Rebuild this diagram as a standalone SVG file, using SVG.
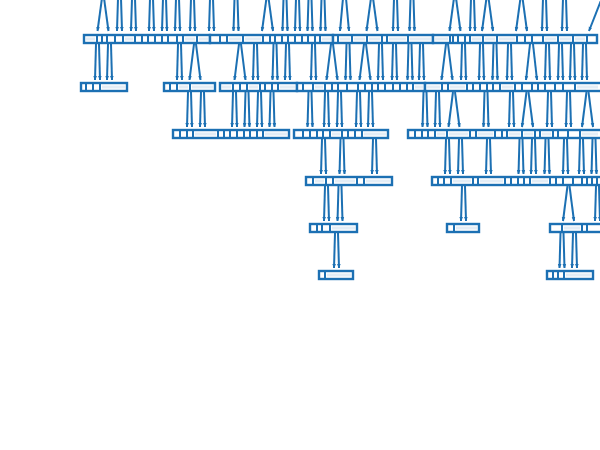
<svg xmlns="http://www.w3.org/2000/svg" width="600" height="450" viewBox="0 0 600 450">
<style>
.n{fill:#fff;stroke:#1c70b3;stroke-width:2.4}
.d{fill:none;stroke:#1c70b3;stroke-width:2}
.t{fill:#e3edf6}
.e{stroke:#1c70b3;stroke-width:2;marker-end:url(#ah)}
</style>
<defs>
<marker id="ah" viewBox="0 0 10 10" refX="9" refY="5" markerWidth="4.5" markerHeight="4.5" markerUnits="userSpaceOnUse" orient="auto"><path d="M0 1L10 5L0 9z" fill="#1c70b3"/></marker>
</defs>
<rect width="600" height="450" fill="#fff"/>
<g id="connectors">
<line class="e" x1="102" y1="-2" x2="97.5" y2="31"/><line class="e" x1="104" y1="-2" x2="108.5" y2="31"/>
<line class="e" x1="118" y1="-2" x2="117" y2="31"/><line class="e" x1="121" y1="-2" x2="122" y2="31"/>
<line class="e" x1="132" y1="-2" x2="131" y2="31"/><line class="e" x1="135" y1="-2" x2="136" y2="31"/>
<line class="e" x1="150" y1="-2" x2="149" y2="31"/><line class="e" x1="153" y1="-2" x2="154" y2="31"/>
<line class="e" x1="163" y1="-2" x2="162" y2="31"/><line class="e" x1="166" y1="-2" x2="167" y2="31"/>
<line class="e" x1="176" y1="-2" x2="175" y2="31"/><line class="e" x1="179" y1="-2" x2="180" y2="31"/>
<line class="e" x1="191" y1="-2" x2="190" y2="31"/><line class="e" x1="194" y1="-2" x2="195" y2="31"/>
<line class="e" x1="210" y1="-2" x2="209" y2="31"/><line class="e" x1="213" y1="-2" x2="214" y2="31"/>
<line class="e" x1="234.5" y1="-2" x2="233.5" y2="31"/><line class="e" x1="237.5" y1="-2" x2="238.5" y2="31"/>
<line class="e" x1="266.5" y1="-2" x2="262" y2="31"/><line class="e" x1="268.5" y1="-2" x2="273" y2="31"/>
<line class="e" x1="283.5" y1="-2" x2="282.5" y2="31"/><line class="e" x1="286.5" y1="-2" x2="287.5" y2="31"/>
<line class="e" x1="296" y1="-2" x2="295" y2="31"/><line class="e" x1="299" y1="-2" x2="300" y2="31"/>
<line class="e" x1="308.5" y1="-2" x2="307.5" y2="31"/><line class="e" x1="311.5" y1="-2" x2="312.5" y2="31"/>
<line class="e" x1="321.5" y1="-2" x2="320.5" y2="31"/><line class="e" x1="324.5" y1="-2" x2="325.5" y2="31"/>
<line class="e" x1="343" y1="-2" x2="340" y2="31"/><line class="e" x1="346" y1="-2" x2="349" y2="31"/>
<line class="e" x1="371" y1="-2" x2="366.5" y2="31"/><line class="e" x1="373" y1="-2" x2="377.5" y2="31"/>
<line class="e" x1="394" y1="-2" x2="393" y2="31"/><line class="e" x1="397" y1="-2" x2="398" y2="31"/>
<line class="e" x1="410.5" y1="-2" x2="409.5" y2="31"/><line class="e" x1="413.5" y1="-2" x2="414.5" y2="31"/>
<line class="e" x1="454" y1="-2" x2="449.5" y2="31"/><line class="e" x1="456" y1="-2" x2="460.5" y2="31"/>
<line class="e" x1="471" y1="-2" x2="470" y2="31"/><line class="e" x1="474" y1="-2" x2="475" y2="31"/>
<line class="e" x1="486.5" y1="-2" x2="482" y2="31"/><line class="e" x1="488.5" y1="-2" x2="493" y2="31"/>
<line class="e" x1="520.5" y1="-2" x2="516" y2="31"/><line class="e" x1="522.5" y1="-2" x2="527" y2="31"/>
<line class="e" x1="543" y1="-2" x2="542" y2="31"/><line class="e" x1="546" y1="-2" x2="547" y2="31"/>
<line class="e" x1="563" y1="-2" x2="562" y2="31"/><line class="e" x1="566" y1="-2" x2="567" y2="31"/>
<line class="e" x1="602" y1="-2" x2="589" y2="31"/>

<line class="e" x1="96" y1="44" x2="95" y2="80"/><line class="e" x1="99" y1="44" x2="100" y2="80"/>
<line class="e" x1="108" y1="44" x2="107" y2="80"/><line class="e" x1="111" y1="44" x2="112" y2="80"/>
<line class="e" x1="178" y1="44" x2="177" y2="80"/><line class="e" x1="181" y1="44" x2="182" y2="80"/>
<line class="e" x1="194" y1="44" x2="189.5" y2="80"/><line class="e" x1="196" y1="44" x2="200.5" y2="80"/>
<line class="e" x1="239" y1="44" x2="234.5" y2="80"/><line class="e" x1="241" y1="44" x2="245.5" y2="80"/>
<line class="e" x1="254" y1="44" x2="253" y2="80"/><line class="e" x1="257" y1="44" x2="258" y2="80"/>
<line class="e" x1="273.5" y1="44" x2="272.5" y2="80"/><line class="e" x1="276.5" y1="44" x2="277.5" y2="80"/>
<line class="e" x1="286" y1="44" x2="285" y2="80"/><line class="e" x1="289" y1="44" x2="290" y2="80"/>
<line class="e" x1="312" y1="44" x2="311" y2="80"/><line class="e" x1="315" y1="44" x2="316" y2="80"/>
<line class="e" x1="331" y1="44" x2="326.5" y2="80"/><line class="e" x1="333" y1="44" x2="337.5" y2="80"/>
<line class="e" x1="346.5" y1="44" x2="345.5" y2="80"/><line class="e" x1="349.5" y1="44" x2="350.5" y2="80"/>
<line class="e" x1="364" y1="44" x2="359.5" y2="80"/><line class="e" x1="366" y1="44" x2="370.5" y2="80"/>
<line class="e" x1="379" y1="44" x2="378" y2="80"/><line class="e" x1="382" y1="44" x2="383" y2="80"/>
<line class="e" x1="393" y1="44" x2="392" y2="80"/><line class="e" x1="396" y1="44" x2="397" y2="80"/>
<line class="e" x1="408.5" y1="44" x2="407.5" y2="80"/><line class="e" x1="411.5" y1="44" x2="412.5" y2="80"/>
<line class="e" x1="420" y1="44" x2="419" y2="80"/><line class="e" x1="423" y1="44" x2="424" y2="80"/>
<line class="e" x1="446" y1="44" x2="441.5" y2="80"/><line class="e" x1="448" y1="44" x2="452.5" y2="80"/>
<line class="e" x1="462" y1="44" x2="461" y2="80"/><line class="e" x1="465" y1="44" x2="466" y2="80"/>
<line class="e" x1="480" y1="44" x2="479" y2="80"/><line class="e" x1="483" y1="44" x2="484" y2="80"/>
<line class="e" x1="493.5" y1="44" x2="492.5" y2="80"/><line class="e" x1="496.5" y1="44" x2="497.5" y2="80"/>
<line class="e" x1="508" y1="44" x2="507" y2="80"/><line class="e" x1="511" y1="44" x2="512" y2="80"/>
<line class="e" x1="530" y1="44" x2="526" y2="80"/><line class="e" x1="533" y1="44" x2="537" y2="80"/>
<line class="e" x1="546" y1="44" x2="545" y2="80"/><line class="e" x1="549" y1="44" x2="550" y2="80"/>
<line class="e" x1="559" y1="44" x2="558" y2="80"/><line class="e" x1="562" y1="44" x2="563" y2="80"/>
<line class="e" x1="571" y1="44" x2="570" y2="80"/><line class="e" x1="574" y1="44" x2="575" y2="80"/>
<line class="e" x1="583" y1="44" x2="582" y2="80"/><line class="e" x1="586" y1="44" x2="587" y2="80"/>

<line class="e" x1="188" y1="92" x2="187" y2="127"/><line class="e" x1="191" y1="92" x2="192" y2="127"/>
<line class="e" x1="201" y1="92" x2="200" y2="127"/><line class="e" x1="204" y1="92" x2="205" y2="127"/>
<line class="e" x1="233" y1="92" x2="232" y2="127"/><line class="e" x1="236" y1="92" x2="237" y2="127"/>
<line class="e" x1="245.5" y1="92" x2="244.5" y2="127"/><line class="e" x1="248.5" y1="92" x2="249.5" y2="127"/>
<line class="e" x1="258" y1="92" x2="257" y2="127"/><line class="e" x1="261" y1="92" x2="262" y2="127"/>
<line class="e" x1="270.5" y1="92" x2="269.5" y2="127"/><line class="e" x1="273.5" y1="92" x2="274.5" y2="127"/>
<line class="e" x1="308.5" y1="92" x2="307.5" y2="127"/><line class="e" x1="311.5" y1="92" x2="312.5" y2="127"/>
<line class="e" x1="325" y1="92" x2="324" y2="127"/><line class="e" x1="328" y1="92" x2="329" y2="127"/>
<line class="e" x1="338" y1="92" x2="337" y2="127"/><line class="e" x1="341" y1="92" x2="342" y2="127"/>
<line class="e" x1="357" y1="92" x2="356" y2="127"/><line class="e" x1="360" y1="92" x2="361" y2="127"/>
<line class="e" x1="369" y1="92" x2="368" y2="127"/><line class="e" x1="372" y1="92" x2="373" y2="127"/>
<line class="e" x1="423.5" y1="92" x2="422.5" y2="127"/><line class="e" x1="426.5" y1="92" x2="427.5" y2="127"/>
<line class="e" x1="436" y1="92" x2="435" y2="127"/><line class="e" x1="439" y1="92" x2="440" y2="127"/>
<line class="e" x1="453" y1="92" x2="448.5" y2="127"/><line class="e" x1="455" y1="92" x2="459.5" y2="127"/>
<line class="e" x1="484.5" y1="92" x2="483.5" y2="127"/><line class="e" x1="487.5" y1="92" x2="488.5" y2="127"/>
<line class="e" x1="510" y1="92" x2="509" y2="127"/><line class="e" x1="513" y1="92" x2="514" y2="127"/>
<line class="e" x1="526.5" y1="92" x2="522" y2="127"/><line class="e" x1="528.5" y1="92" x2="533" y2="127"/>
<line class="e" x1="548" y1="92" x2="547" y2="127"/><line class="e" x1="551" y1="92" x2="552" y2="127"/>
<line class="e" x1="567" y1="92" x2="566" y2="127"/><line class="e" x1="570" y1="92" x2="571" y2="127"/>
<line class="e" x1="586.5" y1="92" x2="582" y2="127"/><line class="e" x1="588.5" y1="92" x2="593" y2="127"/>

<line class="e" x1="322" y1="139" x2="321" y2="174"/><line class="e" x1="325" y1="139" x2="326" y2="174"/>
<line class="e" x1="340.5" y1="139" x2="339.5" y2="174"/><line class="e" x1="343.5" y1="139" x2="344.5" y2="174"/>
<line class="e" x1="373" y1="139" x2="372" y2="174"/><line class="e" x1="376" y1="139" x2="377" y2="174"/>
<line class="e" x1="446" y1="139" x2="445" y2="174"/><line class="e" x1="449" y1="139" x2="450" y2="174"/>
<line class="e" x1="459" y1="139" x2="458" y2="174"/><line class="e" x1="462" y1="139" x2="463" y2="174"/>
<line class="e" x1="487" y1="139" x2="486" y2="174"/><line class="e" x1="490" y1="139" x2="491" y2="174"/>
<line class="e" x1="519.5" y1="139" x2="518.5" y2="174"/><line class="e" x1="522.5" y1="139" x2="523.5" y2="174"/>
<line class="e" x1="532" y1="139" x2="531" y2="174"/><line class="e" x1="535" y1="139" x2="536" y2="174"/>
<line class="e" x1="545.5" y1="139" x2="544.5" y2="174"/><line class="e" x1="548.5" y1="139" x2="549.5" y2="174"/>
<line class="e" x1="564" y1="139" x2="563" y2="174"/><line class="e" x1="567" y1="139" x2="568" y2="174"/>
<line class="e" x1="580" y1="139" x2="579" y2="174"/><line class="e" x1="583" y1="139" x2="584" y2="174"/>
<line class="e" x1="592.5" y1="139" x2="591.5" y2="174"/><line class="e" x1="595.5" y1="139" x2="596.5" y2="174"/>

<line class="e" x1="325" y1="186" x2="324" y2="221"/><line class="e" x1="328" y1="186" x2="329" y2="221"/>
<line class="e" x1="338.5" y1="186" x2="337.5" y2="221"/><line class="e" x1="341.5" y1="186" x2="342.5" y2="221"/>
<line class="e" x1="462" y1="186" x2="461" y2="221"/><line class="e" x1="465" y1="186" x2="466" y2="221"/>
<line class="e" x1="567.5" y1="186" x2="563" y2="221"/><line class="e" x1="569.5" y1="186" x2="574" y2="221"/>
<line class="e" x1="596" y1="186" x2="595" y2="221"/><line class="e" x1="599" y1="186" x2="600" y2="221"/>

<line class="e" x1="335" y1="233" x2="334" y2="268"/><line class="e" x1="338" y1="233" x2="339" y2="268"/>
<line class="e" x1="560.5" y1="233" x2="559.5" y2="268"/><line class="e" x1="563.5" y1="233" x2="564.5" y2="268"/>
<line class="e" x1="573" y1="233" x2="572" y2="268"/><line class="e" x1="576" y1="233" x2="577" y2="268"/>
</g>

<g id="n1a"><rect class="n" x="84" y="35" width="126" height="8"/><rect class="t" x="86" y="37.5" width="9" height="3"/><rect class="t" x="125" y="37.5" width="8" height="3"/><rect class="t" x="185" y="37.5" width="10" height="3"/><rect class="t" x="199" y="37.5" width="9" height="3"/><path class="d" d="M97 35v8M102 35v8M107 35v8M115 35v8M123 35v8M135 35v8M142 35v8M148 35v8M155 35v8M162 35v8M168 35v8M177 35v8M183 35v8M197 35v8"/></g>
<g id="n1b"><rect class="n" x="210" y="35" width="123" height="8"/><rect class="t" x="229" y="37.5" width="12" height="3"/><rect class="t" x="245" y="37.5" width="16" height="3"/><rect class="t" x="322" y="37.5" width="9" height="3"/><path class="d" d="M220 35v8M227 35v8M243 35v8M263 35v8M270 35v8M275 35v8M282 35v8M288 35v8M295 35v8M302 35v8M308 35v8M315 35v8M320 35v8"/></g>
<g id="n1c"><rect class="n" x="333" y="35" width="100" height="8"/><rect class="t" x="340" y="37.5" width="10" height="3"/><rect class="t" x="354" y="37.5" width="11" height="3"/><rect class="t" x="369" y="37.5" width="11" height="3"/><rect class="t" x="389" y="37.5" width="17" height="3"/><rect class="t" x="410" y="37.5" width="21" height="3"/><path class="d" d="M338 35v8M352 35v8M367 35v8M382 35v8M387 35v8M408 35v8"/></g>
<g id="n1d"><rect class="n" x="433" y="35" width="164" height="8"/><rect class="t" x="435" y="37.5" width="13" height="3"/><rect class="t" x="472" y="37.5" width="9" height="3"/><rect class="t" x="485" y="37.5" width="10" height="3"/><rect class="t" x="499" y="37.5" width="16" height="3"/><rect class="t" x="545" y="37.5" width="11" height="3"/><rect class="t" x="560" y="37.5" width="11" height="3"/><rect class="t" x="575" y="37.5" width="10" height="3"/><path class="d" d="M450 35v8M453 35v8M458 35v8M465 35v8M470 35v8M483 35v8M497 35v8M517 35v8M525 35v8M532 35v8M543 35v8M558 35v8M573 35v8M587 35v8"/></g>

<g id="n2a"><rect class="n" x="81" y="83" width="46" height="8"/><rect class="t" x="102" y="85.5" width="23" height="3"/><path class="d" d="M86 83v8M93 83v8M100 83v8"/></g>
<g id="n2b"><rect class="n" x="164" y="83" width="51" height="8"/><rect class="t" x="179" y="85.5" width="9" height="3"/><rect class="t" x="192" y="85.5" width="21" height="3"/><path class="d" d="M170 83v8M177 83v8M190 83v8"/></g>
<g id="n2c"><rect class="n" x="220" y="83" width="77" height="8"/><rect class="t" x="222" y="85.5" width="9" height="3"/><rect class="t" x="249" y="85.5" width="9" height="3"/><rect class="t" x="280" y="85.5" width="15" height="3"/><path class="d" d="M233 83v8M240 83v8M247 83v8M260 83v8M265 83v8M272 83v8M278 83v8"/></g>
<g id="n2d"><rect class="n" x="297" y="83" width="128" height="8"/><rect class="t" x="315" y="85.5" width="8" height="3"/><rect class="t" x="415" y="85.5" width="8" height="3"/><path class="d" d="M303 83v8M313 83v8M325 83v8M332 83v8M338 83v8M347 83v8M358 83v8M365 83v8M372 83v8M378 83v8M385 83v8M393 83v8M400 83v8M407 83v8M413 83v8"/></g>
<g id="n2e"><rect class="n" x="425" y="83" width="177" height="8"/><rect class="t" x="427" y="85.5" width="13" height="3"/><rect class="t" x="450" y="85.5" width="15" height="3"/><rect class="t" x="502" y="85.5" width="11" height="3"/><rect class="t" x="577" y="85.5" width="21" height="3"/><path class="d" d="M442 83v8M448 83v8M467 83v8M473 83v8M480 83v8M487 83v8M493 83v8M500 83v8M515 83v8M522 83v8M532 83v8M538 83v8M545 83v8M555 83v8M563 83v8M575 83v8"/></g>

<g id="n3a"><rect class="n" x="173" y="130" width="116" height="8"/><rect class="t" x="195" y="132.5" width="21" height="3"/><rect class="t" x="265" y="132.5" width="22" height="3"/><path class="d" d="M180 130v8M187 130v8M193 130v8M218 130v8M224 130v8M230 130v8M237 130v8M244 130v8M250 130v8M257 130v8M263 130v8"/></g>
<g id="n3b"><rect class="n" x="294" y="130" width="94" height="8"/><rect class="t" x="332" y="132.5" width="8" height="3"/><rect class="t" x="364" y="132.5" width="22" height="3"/><path class="d" d="M303 130v8M310 130v8M317 130v8M323 130v8M330 130v8M342 130v8M348 130v8M355 130v8M362 130v8"/></g>
<g id="n3c"><rect class="n" x="408" y="130" width="194" height="8"/><rect class="t" x="437" y="132.5" width="8" height="3"/><rect class="t" x="449" y="132.5" width="19" height="3"/><rect class="t" x="478" y="132.5" width="15" height="3"/><rect class="t" x="509" y="132.5" width="11" height="3"/><rect class="t" x="524" y="132.5" width="9" height="3"/><rect class="t" x="542" y="132.5" width="9" height="3"/><rect class="t" x="582" y="132.5" width="16" height="3"/><path class="d" d="M415 130v8M422 130v8M428 130v8M435 130v8M447 130v8M470 130v8M476 130v8M495 130v8M502 130v8M507 130v8M522 130v8M535 130v8M540 130v8M553 130v8M558 130v8M568 130v8M580 130v8"/></g>

<g id="n4a"><rect class="n" x="306" y="177" width="86" height="8"/><rect class="t" x="315" y="179.5" width="9" height="3"/><rect class="t" x="335" y="179.5" width="20" height="3"/><rect class="t" x="366" y="179.5" width="24" height="3"/><path class="d" d="M313 177v8M326 177v8M333 177v8M357 177v8M364 177v8"/></g>
<g id="n4b"><rect class="n" x="432" y="177" width="170" height="8"/><rect class="t" x="453" y="179.5" width="18" height="3"/><rect class="t" x="480" y="179.5" width="23" height="3"/><rect class="t" x="532" y="179.5" width="16" height="3"/><path class="d" d="M438 177v8M444 177v8M451 177v8M473 177v8M478 177v8M505 177v8M511 177v8M518 177v8M524 177v8M530 177v8M550 177v8M556 177v8M563 177v8M573 177v8M582 177v8M587 177v8M592 177v8M597 177v8"/></g>

<g id="n5a"><rect class="n" x="310" y="224" width="47" height="8"/><rect class="t" x="332" y="226.5" width="23" height="3"/><path class="d" d="M317 224v8M322 224v8M330 224v8"/></g>
<g id="n5b"><rect class="n" x="447" y="224" width="32" height="8"/><rect class="t" x="456" y="226.5" width="21" height="3"/><path class="d" d="M454 224v8"/></g>
<g id="n5c"><rect class="n" x="550" y="224" width="52" height="8"/><rect class="t" x="564" y="226.5" width="16" height="3"/><path class="d" d="M562 224v8M582 224v8M587 224v8"/></g>

<g id="n6a"><rect class="n" x="319" y="271" width="34" height="8"/><rect class="t" x="327" y="273.5" width="24" height="3"/><path class="d" d="M325 271v8"/></g>
<g id="n6b"><rect class="n" x="547" y="271" width="46" height="8"/><rect class="t" x="566" y="273.5" width="25" height="3"/><path class="d" d="M553 271v8M558 271v8M564 271v8"/></g>
</svg>
